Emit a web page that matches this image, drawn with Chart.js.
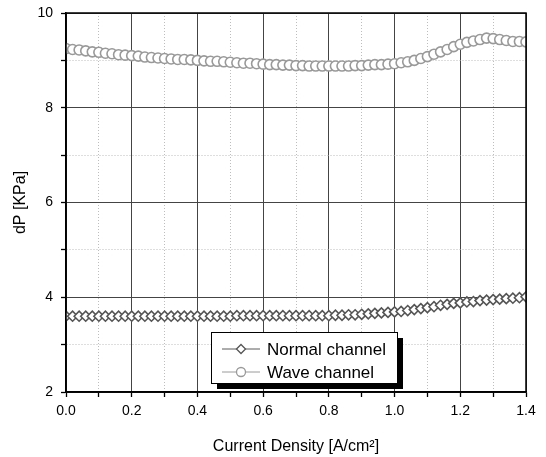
<!DOCTYPE html>
<html>
<head>
<meta charset="utf-8">
<script src="https://cdn.jsdelivr.net/npm/chart.js@4.4.1/dist/chart.umd.min.js"></script>
<style>
  html, body { margin: 0; padding: 0; background: #fff; }
  #wrap { width: 546px; height: 457px; }
</style>
</head>
<body>
<div id="wrap"><canvas id="chart_dp"></canvas></div>
<script>
// current density [A/cm2], one point every 0.02
var currentDensity = [
  0.00, 0.02, 0.04, 0.06, 0.08, 0.10, 0.12, 0.14, 0.16, 0.18,
  0.20, 0.22, 0.24, 0.26, 0.28, 0.30, 0.32, 0.34, 0.36, 0.38,
  0.40, 0.42, 0.44, 0.46, 0.48, 0.50, 0.52, 0.54, 0.56, 0.58,
  0.60, 0.62, 0.64, 0.66, 0.68, 0.70, 0.72, 0.74, 0.76, 0.78,
  0.80, 0.82, 0.84, 0.86, 0.88, 0.90, 0.92, 0.94, 0.96, 0.98,
  1.00, 1.02, 1.04, 1.06, 1.08, 1.10, 1.12, 1.14, 1.16, 1.18,
  1.20, 1.22, 1.24, 1.26, 1.28, 1.30, 1.32, 1.34, 1.36, 1.38,
  1.40
];
var normalChannel = [
  3.60, 3.60, 3.60, 3.60, 3.60, 3.60, 3.60, 3.60, 3.60, 3.60,
  3.60, 3.60, 3.60, 3.60, 3.60, 3.60, 3.60, 3.60, 3.60, 3.60,
  3.60, 3.60, 3.60, 3.60, 3.60, 3.60, 3.61, 3.61, 3.61, 3.61,
  3.61, 3.61, 3.61, 3.61, 3.61, 3.61, 3.61, 3.61, 3.61, 3.61,
  3.61, 3.62, 3.62, 3.63, 3.63, 3.64, 3.65, 3.66, 3.67, 3.68,
  3.69, 3.70, 3.72, 3.74, 3.76, 3.78, 3.80, 3.83, 3.85, 3.87,
  3.88, 3.90, 3.91, 3.93, 3.94, 3.95, 3.96, 3.97, 3.98, 3.99,
  4.01
];
var waveChannel = [
  9.25, 9.23, 9.22, 9.20, 9.18, 9.17, 9.15, 9.14, 9.12, 9.11,
  9.10, 9.09, 9.07, 9.06, 9.05, 9.04, 9.03, 9.02, 9.02, 9.01,
  9.00, 8.99, 8.98, 8.98, 8.97, 8.96, 8.95, 8.94, 8.94, 8.93,
  8.92, 8.91, 8.91, 8.90, 8.90, 8.89, 8.89, 8.88, 8.88, 8.88,
  8.88, 8.88, 8.88, 8.88, 8.89, 8.89, 8.90, 8.91, 8.91, 8.92,
  8.93, 8.95, 8.97, 9.00, 9.04, 9.08, 9.13, 9.18, 9.23, 9.29,
  9.34, 9.38, 9.41, 9.44, 9.47, 9.46, 9.44, 9.42, 9.40, 9.40,
  9.39
];

function toPoints(ys) {
  return ys.map(function (y, i) { return { x: currentDensity[i], y: y }; });
}

var fontFamily = "'Liberation Sans', Arial, sans-serif";

function isMajor(v, step) {
  return Math.abs(Math.round(v / step) * step - v) < 1e-6;
}

var legendBox = {
  id: 'legendBox',
  afterDraw: function (chart) {
    var ctx = chart.ctx;
    var xs = chart.scales.x, ys = chart.scales.y;
    var left = Math.round(xs.getPixelForValue(0.44)), right = Math.round(xs.getPixelForValue(1.007));
    var top = Math.round(ys.getPixelForValue(3.27)), bottom = Math.round(ys.getPixelForValue(2.19));
    ctx.save();
    ctx.fillStyle = '#000';
    ctx.fillRect(left + 6, top + 6, right - left, bottom - top);
    ctx.fillStyle = '#fff';
    ctx.fillRect(left, top, right - left, bottom - top);
    ctx.strokeStyle = '#000';
    ctx.lineWidth = 1;
    ctx.strokeRect(left + 0.5, top + 0.5, right - left, bottom - top);
    ctx.font = '17px ' + fontFamily;
    ctx.textBaseline = 'middle';
    var rows = [top + 17, top + 40];
    chart.data.datasets.forEach(function (ds, i) {
      var cy = rows[i];
      var x0 = left + 11, x1 = left + 49;
      ctx.strokeStyle = ds.borderColor;
      ctx.lineWidth = 1;
      ctx.beginPath();
      ctx.moveTo(x0, cy); ctx.lineTo(x1, cy);
      ctx.stroke();
      ctx.fillStyle = '#fff';
      ctx.strokeStyle = ds.pointBorderColor;
      ctx.lineWidth = 1.3;
      Chart.helpers.drawPoint(ctx, {
        pointStyle: ds.pointStyle, radius: 4.5,
        borderWidth: 1.3, rotation: 0
      }, (x0 + x1) / 2, cy);
      ctx.fillStyle = '#000';
      ctx.fillText(ds.label, x1 + 7, cy + 1);
    });
    ctx.restore();
  }
};

var frameBox = {
  id: 'frameBox',
  afterDatasetsDraw: function (chart) {
    var a = chart.chartArea, ctx = chart.ctx;
    ctx.save();
    ctx.strokeStyle = '#000';
    ctx.lineWidth = 1.5;
    ctx.strokeRect(a.left, a.top, a.right - a.left, a.bottom - a.top);
    ctx.restore();
  }
};

var chart_dp = new Chart(document.getElementById('chart_dp'), {
  type: 'line',
  data: {
    datasets: [
      {
        label: 'Normal channel',
        data: toPoints(normalChannel),
        borderColor: '#5a5a5a',
        backgroundColor: '#fff',
        borderWidth: 1,
        pointStyle: 'rectRot',
        pointRadius: 5,
        pointBorderWidth: 1.6,
        pointBorderColor: '#555',
        pointBackgroundColor: '#fff'
      },
      {
        label: 'Wave channel',
        data: toPoints(waveChannel),
        borderColor: '#9a9a9a',
        backgroundColor: '#fff',
        borderWidth: 1,
        pointStyle: 'circle',
        pointRadius: 5,
        pointBorderWidth: 1.6,
        pointBorderColor: '#999',
        pointBackgroundColor: '#fff'
      }
    ]
  },
  options: {
    animation: false,
    responsive: true,
    maintainAspectRatio: false,
    layout: { padding: { top: 13, right: 20, left: 0, bottom: 0 } },
    plugins: {
      legend: { display: false },
      tooltip: { enabled: false }
    },
    scales: {
      x: {
        type: 'linear',
        min: 0, max: 1.4,
        afterFit: function (scale) {
          scale.height = 65;
          scale.paddingLeft = 0;
          scale.paddingRight = 0;
        },
        title: {
          display: true,
          text: 'Current Density [A/cm\u00B2]',
          color: '#000',
          padding: { top: 0, bottom: 1 },
          font: { family: fontFamily, size: 16 }
        },
        ticks: {
          stepSize: 0.1,
          autoSkip: false,
          maxRotation: 0,
          padding: 6,
          color: '#000',
          font: { family: fontFamily, size: 14 },
          callback: function (value) {
            return isMajor(value, 0.2) ? value.toFixed(1) : '';
          }
        },
        grid: {
          color: function (ctx) {
            return isMajor(ctx.tick.value, 0.2) ? '#444' : '#bdbdbd';
          },
          lineWidth: 1,
          tickLength: 5,
          tickColor: '#000',
          tickWidth: 1.3
        },
        border: {
          color: '#000', width: 1.5,
          dash: function (ctx) {
            if (!ctx.tick) return [];
            return isMajor(ctx.tick.value, 0.2) ? [] : [1, 2];
          }
        }
      },
      y: {
        type: 'linear',
        min: 2, max: 10,
        afterFit: function (scale) {
          scale.width = 66;
          scale.paddingTop = 0;
          scale.paddingBottom = 0;
        },
        title: {
          display: true,
          text: 'dP [KPa]',
          color: '#000',
          padding: { top: 11, bottom: 0 },
          font: { family: fontFamily, size: 16 }
        },
        ticks: {
          stepSize: 1,
          autoSkip: false,
          padding: 8,
          color: '#000',
          font: { family: fontFamily, size: 14 },
          callback: function (value) {
            return isMajor(value, 2) ? String(value) : '';
          }
        },
        grid: {
          color: function (ctx) {
            return isMajor(ctx.tick.value, 2) ? '#444' : '#bdbdbd';
          },
          lineWidth: 1,
          tickLength: 5,
          tickColor: '#000',
          tickWidth: 1.3
        },
        border: {
          color: '#000', width: 1.5,
          dash: function (ctx) {
            if (!ctx.tick) return [];
            return isMajor(ctx.tick.value, 2) ? [] : [1, 2];
          }
        }
      }
    }
  },
  plugins: [frameBox, legendBox]
});
</script>
</body>
</html>
